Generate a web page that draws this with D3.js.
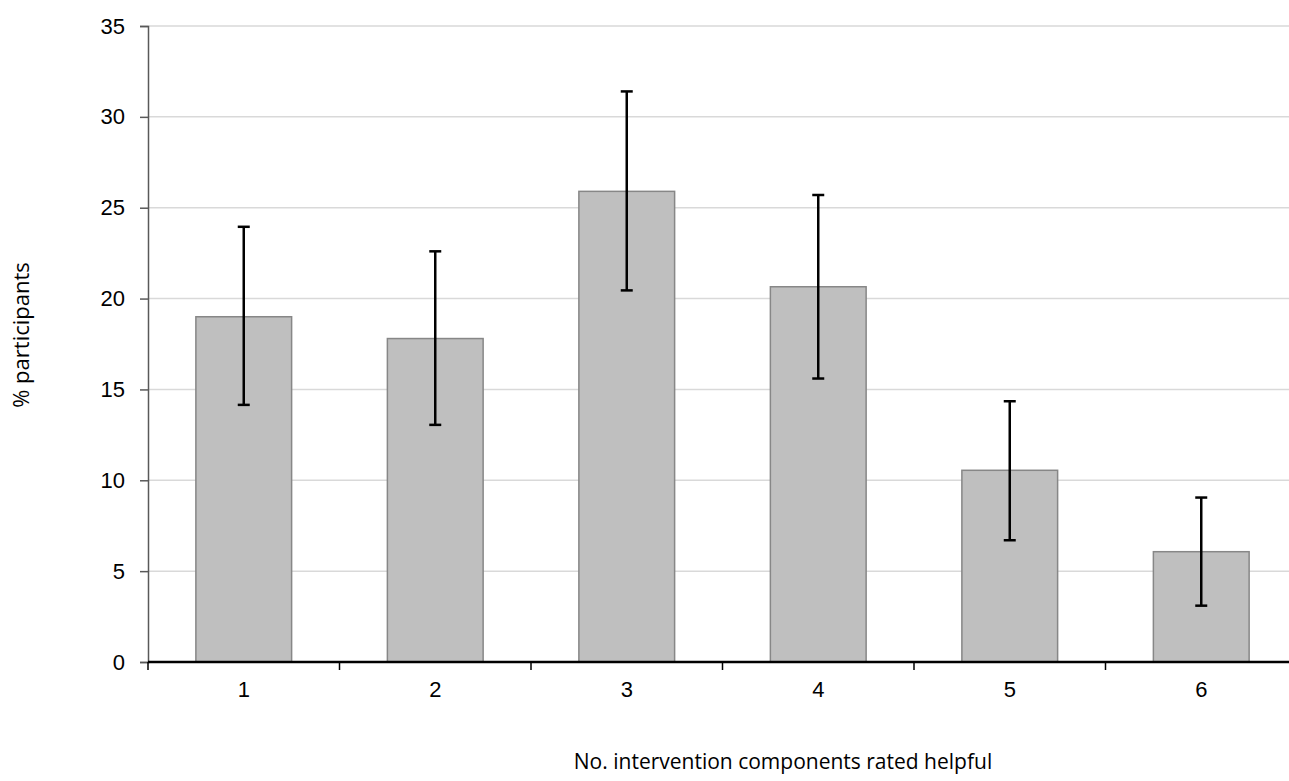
<!DOCTYPE html>
<html>
<head>
<meta charset="utf-8">
<script src="https://cdn.jsdelivr.net/npm/d3@7"></script>
<style>
  body { margin: 0; background: #fff; }
  .axis-title { font-family: "Open Sans", "Noto Sans", sans-serif; font-size: 21px; fill: #000; }
</style>
</head>
<body>
<svg id="chart"></svg>
<script>
//data
var categories = ['1', '2', '3', '4', '5', '6'];
var values = [19.0, 17.8, 25.9, 20.65, 10.55, 6.07];
var errLow = [14.15, 13.05, 20.45, 15.6, 6.7, 3.1];
var errHigh = [23.95, 22.6, 31.4, 25.7, 14.35, 9.05];
var yTicks = [0, 5, 10, 15, 20, 25, 30, 35];

//chart parameters
var svg = d3.select('#chart')
    .attr('width', 1289)
    .attr('height', 781);

var margin = {top: 26, right: -8, bottom: 119, left: 148},
    width = +svg.attr('width') - margin.left - margin.right,
    height = +svg.attr('height') - margin.top - margin.bottom;

//scales
var xScale = d3.scaleBand().domain(categories).range([0, width]).paddingInner(0.5).paddingOuter(0.25),
    xTickScale = d3.scaleLinear().domain([0, categories.length]).range([0, width]),
    yScale = d3.scaleLinear().domain([0, 35]).range([height, 0]);

var canvas = svg.append('g')
    .attr('transform', 'translate(' + margin.left + ',' + margin.top + ')');

//gridlines
canvas.append('g')
    .attr('class', 'grid')
    .selectAll('line').data(yTicks.filter(d => d > 0))
    .enter().append('line')
        .attr('x1', 0)
        .attr('x2', width)
        .attr('y1', d => yScale(d))
        .attr('y2', d => yScale(d))
        .style('stroke', '#d9d9d9')
        .style('stroke-width', 1.5);

//bars
canvas.selectAll('.bar').data(values)
    .enter().append('rect')
        .attr('class', 'bar')
        .attr('x', (d, i) => xScale(categories[i]))
        .attr('y', d => yScale(d))
        .attr('width', xScale.bandwidth())
        .attr('height', d => height - yScale(d))
        .style('fill', '#bfbfbf')
        .style('stroke', '#878787')
        .style('stroke-width', 1.5);

//error bars
var err = canvas.selectAll('.err').data(values)
    .enter().append('g')
        .attr('class', 'err')
        .attr('transform', (d, i) => 'translate(' + (xScale(categories[i]) + xScale.bandwidth() / 2) + ',0)');
err.append('line')
    .attr('y1', (d, i) => yScale(errLow[i]))
    .attr('y2', (d, i) => yScale(errHigh[i]));
err.append('line')
    .attr('x1', -6).attr('x2', 6)
    .attr('y1', (d, i) => yScale(errHigh[i]))
    .attr('y2', (d, i) => yScale(errHigh[i]));
err.append('line')
    .attr('x1', -6).attr('x2', 6)
    .attr('y1', (d, i) => yScale(errLow[i]))
    .attr('y2', (d, i) => yScale(errLow[i]));
err.selectAll('line').style('stroke', '#000').style('stroke-width', 2.5);

//y axis
var yAxis = canvas.append('g')
    .attr('class', 'axis axis-y')
    .call(d3.axisLeft(yScale).tickValues(yTicks).tickSize(8).tickPadding(15));
yAxis.select('.domain').style('stroke', '#595959').style('stroke-width', 1.5);
yAxis.selectAll('.tick line').style('stroke', '#595959').style('stroke-width', 1.5);

//x axis
var xAxis = canvas.append('g')
    .attr('class', 'axis axis-x')
    .attr('transform', 'translate(0,' + height + ')')
    .call(d3.axisBottom(xScale).tickSize(0).tickPadding(19));
xAxis.select('.domain').remove();
xAxis.append('line')
    .attr('x1', 0).attr('x2', width)
    .style('stroke', '#000').style('stroke-width', 2.5);
xAxis.selectAll('.sep').data(d3.range(categories.length + 1))
    .enter().append('line')
        .attr('class', 'sep')
        .attr('x1', d => xTickScale(d)).attr('x2', d => xTickScale(d))
        .attr('y1', 0).attr('y2', 8)
        .style('stroke', '#000').style('stroke-width', 1.5);

//tick label font
svg.selectAll('.axis')
    .attr('font-family', '"Liberation Sans", Arial, sans-serif')
    .attr('font-size', 22);
svg.selectAll('.tick text').style('fill', '#000');

//axis titles
svg.append('text')
    .attr('class', 'axis-title')
    .attr('transform', 'translate(29,335) rotate(-90)')
    .attr('text-anchor', 'middle')
    .style('font-size', '22px')
    .text('% participants');

svg.append('text')
    .attr('class', 'axis-title')
    .attr('x', 783)
    .attr('y', 769)
    .attr('text-anchor', 'middle')
    .text('No. intervention components rated helpful');
</script>
</body>
</html>
